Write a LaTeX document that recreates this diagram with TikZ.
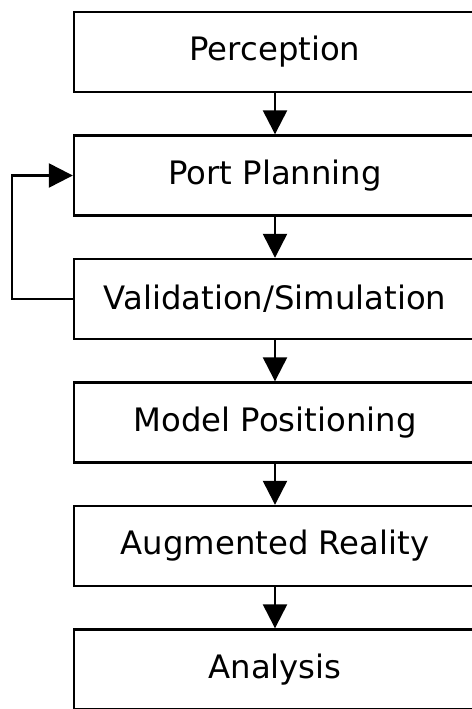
\documentclass[tikz,border=0pt]{standalone}
\usepackage{fontspec}
\setmainfont{DejaVu Sans}
\usetikzlibrary{positioning,arrows.meta}
\begin{document}
\begin{tikzpicture}[
  x=1pt, y=1pt,
  stage/.style={rectangle, draw, line width=2.4pt, minimum width=402pt,
                minimum height=80pt, inner sep=0pt,
                font=\fontsize{32.3}{38}\selectfont},
  arr/.style={-{Triangle[width=24pt,length=24pt]}, line width=2.4pt}
]
  \useasboundingbox (0,0) rectangle (471,-709);
  \foreach \lbl [count=\i] in {Perception, Port Planning,
      Validation/Simulation, Model Positioning, Augmented Reality, Analysis} {
    \pgfmathsetmacro{\y}{-52 - 123.5*(\i-1)}
    % Stage
    \node[stage] (st\i) at (275, \y) {\lbl};
  }
  % Stage arrows
  \foreach \i [evaluate=\i as \inext using int(\i+1)] in {1,2,3,4,5} {
    \draw[arr] (st\i) -- (st\inext);
  }
  % Feedback loop
  \coordinate (loop) at (12, 0);
  \draw[arr] (st3.west) -| (loop |- st2.west) -- (st2.west);
\end{tikzpicture}
\end{document}
